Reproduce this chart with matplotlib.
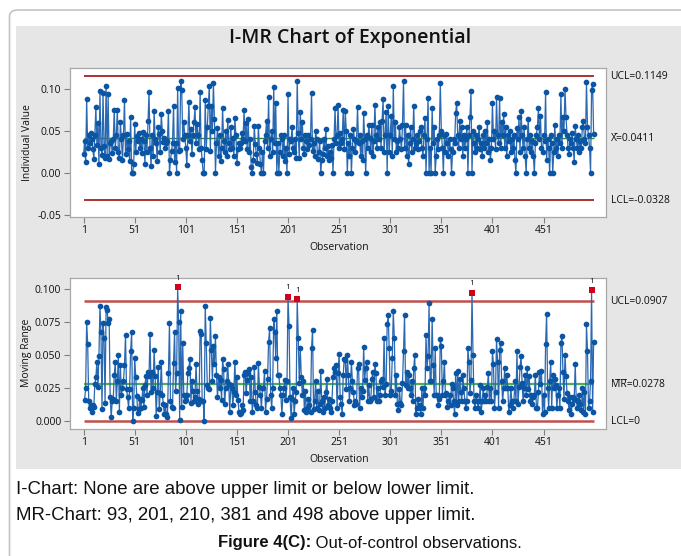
import numpy as np
import matplotlib
matplotlib.use("Agg")
import matplotlib.pyplot as plt
from matplotlib.patches import FancyBboxPatch, Rectangle

# ---------------- data (individual values, in thousandths) ----------------
individual_milli = [
    22, 38, 13, 88, 30, 45, 35, 47, 40, 28,
    17, 45, 78, 33, 59, 10, 97, 30, 21, 95,
    32, 18, 104, 20, 94, 17, 35, 38, 23, 40,
    75, 30, 45, 75, 25, 18, 60, 40, 15, 45,
    87, 22, 46, 28, 38, 14, 67, 0, 0, 10,
    58, 25, 44, 38, 47, 30, 40, 24, 49, 38,
    11, 45, 25, 62, 96, 30, 8, 45, 20, 74,
    40, 36, 14, 55, 46, 25, 70, 50, 37, 42,
    30, 35, 38, 74, 0, 15, 26, 36, 80, 13,
    36, 0, 101, 26, 27, 110, 99, 40, 60, 45,
    29, 9, 45, 85, 38, 52, 22, 45, 60, 78,
    35, 58, 45, 28, 96, 30, 15, 0, 0, 87,
    28, 55, 80, 104, 26, 80, 50, 107, 64, 0,
    35, 53, 20, 45, 14, 30, 77, 38, 25, 50,
    20, 63, 35, 28, 55, 30, 42, 20, 65, 45,
    12, 28, 35, 30, 36, 48, 40, 75, 38, 59,
    28, 64, 25, 40, 7, 0, 15, 56, 34, 22,
    12, 56, 30, 10, 0, 25, 0, 38, 45, 62,
    30, 90, 20, 40, 50, 25, 102, 35, 83, 0,
    35, 0, 25, 45, 40, 20, 45, 14, 30, 0,
    94, 22, 40, 38, 55, 30, 25, 40, 18, 110,
    47, 18, 73, 40, 60, 30, 22, 45, 38, 28,
    45, 33, 40, 95, 26, 35, 20, 50, 40, 17,
    25, 38, 0, 15, 22, 40, 30, 52, 20, 32,
    15, 25, 18, 33, 0, 40, 77, 35, 45, 81,
    30, 48, 35, 40, 75, 28, 74, 50, 0, 35,
    20, 45, 0, 30, 52, 40, 25, 38, 78, 35,
    45, 20, 38, 15, 71, 40, 0, 45, 30, 57,
    42, 25, 57, 20, 38, 81, 45, 30, 55, 40,
    60, 30, 62, 88, 25, 45, 73, 0, 80, 25,
    45, 68, 20, 103, 40, 60, 25, 38, 30, 54,
    40, 28, 57, 110, 30, 57, 20, 45, 10, 35,
    55, 25, 40, 80, 30, 35, 45, 28, 38, 50,
    55, 30, 20, 45, 65, 0, 40, 89, 0, 30,
    0, 77, 35, 55, 0, 20, 40, 28, 45, 107,
    50, 30, 0, 45, 25, 46, 35, 20, 40, 28,
    0, 25, 40, 35, 71, 83, 45, 30, 62, 40,
    55, 20, 45, 30, 40, 55, 0, 45, 66, 97,
    0, 50, 35, 25, 45, 30, 40, 55, 28, 35,
    20, 45, 30, 50, 35, 61, 25, 40, 15, 30,
    83, 40, 50, 28, 90, 45, 35, 89, 30, 60,
    45, 70, 30, 55, 20, 45, 38, 50, 25, 40,
    30, 45, 15, 0, 53, 40, 66, 25, 74, 45,
    30, 55, 20, 0, 40, 64, 30, 45, 25, 38,
    20, 0, 35, 45, 55, 77, 40, 68, 30, 25,
    45, 38, 96, 15, 40, 30, 0, 45, 35, 0,
    25, 57, 30, 40, 20, 45, 35, 94, 30, 67,
    50, 100, 66, 45, 30, 22, 40, 35, 48, 30,
    13, 56, 40, 30, 45, 25, 38, 30, 55, 62,
    40, 35, 108, 55, 45, 30, 0, 99, 106, 46,
]

x_ticks = [1, 51, 101, 151, 201, 251, 301, 351, 401, 451]
i_yticks = [-0.05, 0.00, 0.05, 0.10]
i_ytick_labels = ["-0.05", "0.00", "0.05", "0.10"]
mr_yticks = [0.000, 0.025, 0.050, 0.075, 0.100]
mr_ytick_labels = ["0.000", "0.025", "0.050", "0.075", "0.100"]

i_ucl, i_center, i_lcl = 0.1149, 0.0411, -0.0328
mr_ucl, mr_center, mr_lcl = 0.0907, 0.0278, 0.0

title = "I-MR Chart of Exponential"
caption_lines = [
    "I-Chart: None are above upper limit or below lower limit.",
    "MR-Chart: 93, 201, 210, 381 and 498 above upper limit.",
]
figure_label = "Figure 4(C):"
figure_caption = " Out-of-control observations."

# ---------------- derived series ----------------
individual = np.array(individual_milli) / 1000.0
observations = np.arange(1, len(individual) + 1)
moving_range = np.abs(np.diff(individual))
mr_obs = observations[1:]
flag = moving_range > mr_ucl

# ---------------- styling ----------------
W, H = 681, 556
FONT = ["Open Sans", "DejaVu Sans"]
plt.rcParams["font.family"] = FONT
BLUE = "#0b55a5"
LINE_BLUE = "#2a68b2"
RED = "#a52222"
GREEN = "#2e8b2e"
PANEL = "#e6e6e6"
SPINE = "#a8a8a8"

fig = plt.figure(figsize=(W / 100, H / 100), dpi=100)
fig.patch.set_facecolor("white")

def fx(px):
    return px / W

def fy(py):
    return 1 - py / H

# outer rounded border and gray panel
border = FancyBboxPatch((fx(9.5), fy(600)), fx(720), fy(10) - fy(600),
                        boxstyle="round,pad=0,rounding_size=0.012",
                        transform=fig.transFigure, facecolor="white",
                        edgecolor="#c4c4c4", linewidth=1.2, zorder=-2)
fig.patches.append(border)
panel = Rectangle((fx(15.5), fy(469)), fx(700), fy(26) - fy(469),
                  transform=fig.transFigure, facecolor=PANEL,
                  edgecolor="none", zorder=-1)
fig.patches.append(panel)

fig.text(fx(350), fy(38), title, ha="center", va="center",
         fontsize=14, fontweight="semibold", color="#111111")

def setup_axes(ax, ylim, yticks, ylabels):
    ax.set_facecolor("white")
    ax.set_xlim(-12.6, 512.4)
    ax.set_ylim(*ylim)
    ax.set_xticks(x_ticks)
    ax.set_xticklabels([str(t) for t in x_ticks], fontsize=7.5)
    ax.set_yticks(yticks)
    ax.set_yticklabels(ylabels, fontsize=7.5)
    for s in ax.spines.values():
        s.set_color(SPINE)
        s.set_linewidth(0.9)
    ax.tick_params(axis="both", direction="out", length=4, width=0.8,
                   color="#808080", labelcolor="#111111", pad=2)

MS = 4.1

# ---------------- I chart ----------------
ax1 = fig.add_axes([fx(69.7), fy(216.7), fx(606.3) - fx(69.7), fy(68.3) - fy(216.7)])
setup_axes(ax1, (-0.0524, 0.1246), i_yticks, i_ytick_labels)
x0, x1 = observations[0], observations[-1]
ax1.hlines([i_ucl, i_lcl], x0, x1, color=RED, lw=1.3, zorder=2)
ax1.hlines([i_center], x0, x1, color=GREEN, lw=1.0, zorder=2)
ax1.plot(observations, individual, "-", color=LINE_BLUE, lw=0.9, zorder=3)
ax1.plot(observations, individual, "o", color=BLUE, ms=MS, mew=0, zorder=4)

lab_kw = dict(fontsize=7.5, va="center", ha="left", color="#111111")
ax1.text(1.008, i_ucl, "UCL=0.1149", transform=ax1.get_yaxis_transform(), **lab_kw)
ax1.text(1.008, i_center, "X\u0304=0.0411", transform=ax1.get_yaxis_transform(), **lab_kw)
ax1.text(1.008, i_lcl, "LCL=-0.0328", transform=ax1.get_yaxis_transform(), **lab_kw)

fig.text(fx(27), fy(143), "Individual Value", rotation=90, ha="center", va="center",
         fontsize=7.5, color="#111111")
fig.text(fx(339), fy(247), "Observation", ha="center", va="center",
         fontsize=7.5, color="#111111")

# ---------------- MR chart ----------------
ax2 = fig.add_axes([fx(69.7), fy(429), fx(606.3) - fx(69.7), fy(278.3) - fy(429)])
setup_axes(ax2, (-0.006, 0.1079), mr_yticks, mr_ytick_labels)
ax2.hlines([mr_ucl, mr_lcl], x0, x1, color="#c0504d", lw=1.8, zorder=2)
ax2.hlines([mr_center], x0, x1, color="#4caf50", lw=1.6, zorder=2)
ax2.plot(mr_obs, moving_range, "-", color=LINE_BLUE, lw=0.9, zorder=3)
ax2.plot(mr_obs[~flag], moving_range[~flag], "o", color=BLUE, ms=MS, mew=0, zorder=4)
ax2.plot(mr_obs[flag], moving_range[flag], "s", color="#d0021b", ms=5.0, mew=0, zorder=5)
for xo, yo in zip(mr_obs[flag], moving_range[flag]):
    ax2.annotate("1", (xo, yo), xytext=(0, 4), textcoords="offset points",
                 ha="center", va="bottom", fontsize=6, color="#111111")

ax2.text(1.008, mr_ucl, "UCL=0.0907", transform=ax2.get_yaxis_transform(), **lab_kw)
ax2.text(1.008, mr_center, "M\u0305R\u0305=0.0278", transform=ax2.get_yaxis_transform(), **lab_kw)
ax2.text(1.008, mr_lcl, "LCL=0", transform=ax2.get_yaxis_transform(), **lab_kw)

fig.text(fx(27), fy(353), "Moving Range", rotation=90, ha="center", va="center",
         fontsize=7.5, color="#111111")
fig.text(fx(339), fy(459), "Observation", ha="center", va="center",
         fontsize=7.5, color="#111111")

# ---------------- captions ----------------
CAP = ["Liberation Sans", "DejaVu Sans"]
fig.text(fx(16), fy(489), caption_lines[0], ha="left", va="center",
         fontsize=13.4, family=CAP, color="#111111")
fig.text(fx(16), fy(516), caption_lines[1], ha="left", va="center",
         fontsize=13.4, family=CAP, color="#111111")
renderer = fig.canvas.get_renderer()
lab = fig.text(fx(218), fy(543), figure_label, ha="left", va="center",
               fontsize=12, fontweight="bold", family=CAP, color="#111111")
bb = lab.get_window_extent(renderer=renderer)
fig.text(bb.x1 / W, fy(543), figure_caption, ha="left", va="center",
         fontsize=12, family=CAP, color="#111111")

fig.savefig("out.png", dpi=100)
